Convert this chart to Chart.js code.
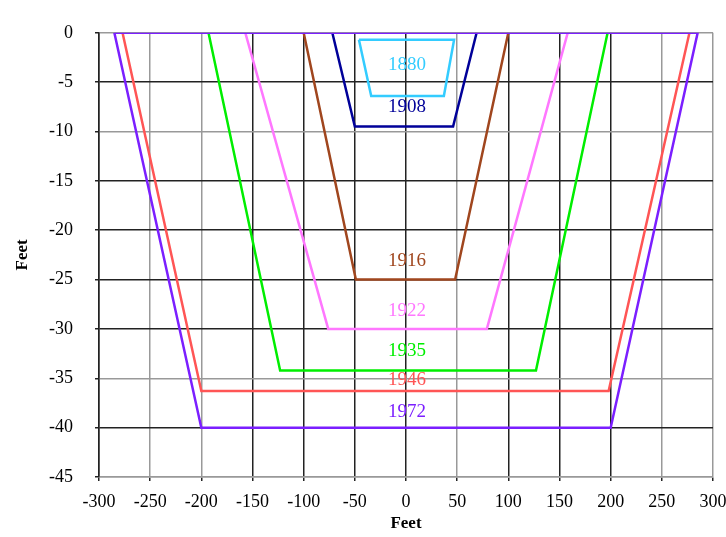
<!DOCTYPE html>
<html>
<head>
<meta charset="utf-8">
<script src="https://cdn.jsdelivr.net/npm/chart.js@4/dist/chart.umd.min.js"></script>
<style>
  html, body { margin: 0; padding: 0; background: #fff; }
  #wrap { width: 726px; height: 537px; }
</style>
</head>
<body>
<div id="wrap"><canvas id="perfil"></canvas></div>
<script>
// cross sections of the channel, feet (x = distance from centre, y = depth)
const x1880 = [-46, 47, 37, -34, -46];
const y1880 = [-0.7, -0.7, -6.4, -6.4, -0.7];
const x1908 = [-72, -50, 46, 69];
const y1908 = [0, -9.5, -9.5, 0];
const x1916 = [-100, -49, 48, 100];
const y1916 = [0, -25, -25, 0];
const x1922 = [-157, -76, 79, 158];
const y1922 = [0, -30, -30, 0];
const x1935 = [-193, -123, 127, 197];
const y1935 = [0, -34.2, -34.2, 0];
const x1946 = [-277, -200, 198, 277];
const y1946 = [0, -36.3, -36.3, 0];
const x1972 = [-285, -200, 200, 285, -285];
const y1972 = [0, -40, -40, 0, 0];

// year labels written inside the sections
const anos = ['1880', '1908', '1916', '1922', '1935', '1946', '1972'];
const rotuloX = [1, 1, 1, 1, 1, 1, 1];
const rotuloY = [-3.3, -7.5, -23.1, -28.2, -32.2, -35.2, -38.4];

const cores = ['#33ccff', '#000099', '#a0461e', '#ff77ff', '#00ee00', '#ff5555', '#7b1fff'];
const cinzaX = [-250, -200, 50, 250, 300];
const cinzaY = [0, -10, -35, -45];

function pontos(xs, ys) {
  return xs.map((x, i) => ({ x: x, y: ys[i] }));
}

const series = [[x1880, y1880], [x1908, y1908], [x1916, y1916], [x1922, y1922],
                [x1935, y1935], [x1946, y1946], [x1972, y1972]];

const datasets = series.map((s, i) => ({
  label: anos[i],
  data: pontos(s[0], s[1]),
  showLine: true,
  borderColor: cores[i],
  backgroundColor: cores[i],
  borderWidth: 2.5,
  pointRadius: 0,
  order: series.length - i
}));

const rotulos = {
  id: 'rotulos',
  afterDatasetsDraw(chart) {
    const ctx = chart.ctx;
    const sx = chart.scales.x, sy = chart.scales.y;
    ctx.save();
    ctx.font = '19px "Liberation Serif", "DejaVu Serif", serif';
    ctx.textAlign = 'center';
    ctx.textBaseline = 'middle';
    anos.forEach((a, i) => {
      ctx.fillStyle = cores[i];
      ctx.fillText(a, sx.getPixelForValue(rotuloX[i]), sy.getPixelForValue(rotuloY[i]));
    });
    ctx.restore();
  }
};

const fonte = { family: '"Liberation Serif", "DejaVu Serif", serif', size: 18 };
const fonteTitulo = { family: '"Liberation Serif", "DejaVu Serif", serif', size: 17, weight: 'bold' };

new Chart(document.getElementById('perfil'), {
  type: 'scatter',
  data: { datasets: datasets },
  plugins: [rotulos],
  options: {
    responsive: true,
    maintainAspectRatio: false,
    animation: false,
    layout: { padding: { left: 12, right: 0, top: 22, bottom: 3 } },
    plugins: {
      legend: { display: false },
      tooltip: { enabled: false }
    },
    scales: {
      x: {
        type: 'linear',
        min: -300,
        max: 300,
        afterFit: (s) => { s.height = 57; s.paddingRight = 13; },
        ticks: { stepSize: 50, color: '#000', font: fonte, padding: 10, maxRotation: 0 },
        grid: {
          color: (c) => cinzaX.includes(c.tick && c.tick.value) ? '#999' : '#222',
          lineWidth: 1.5,
          tickLength: 4,
          tickColor: '#222'
        },
        border: { color: '#999', width: 1.5 },
        title: { display: true, text: 'Feet', color: '#000', font: fonteTitulo, padding: 0 }
      },
      y: {
        type: 'linear',
        min: -45,
        max: 0,
        afterFit: (s) => { s.width = 87; },
        ticks: { stepSize: 5, color: '#000', font: fonte, padding: 22 },
        grid: {
          color: (c) => cinzaY.includes(c.tick && c.tick.value) ? '#999' : '#222',
          lineWidth: 1.5,
          tickLength: 4,
          tickColor: '#222'
        },
        border: { color: '#222', width: 1.5 },
        title: { display: true, text: 'Feet', color: '#000', font: fonteTitulo, padding: 0 }
      }
    }
  }
});
</script>
</body>
</html>
